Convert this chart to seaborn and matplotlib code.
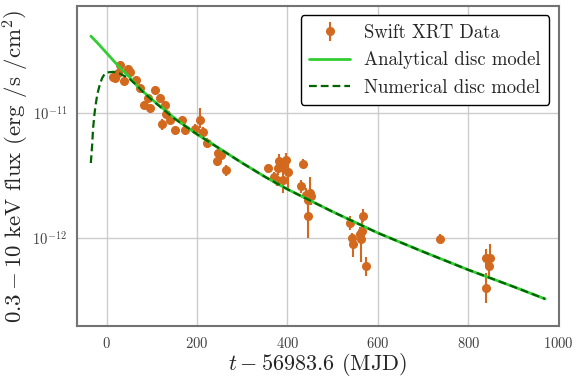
import matplotlib
matplotlib.use("Agg")
import matplotlib.pyplot as plt
import seaborn as sns
import numpy as np

# Swift XRT data (flux in units of 1e-12 erg/s/cm^2)
t_obs = [14, 18, 26, 29.5, 38, 47, 51, 66, 73, 83, 91.5, 95, 106, 117, 122.5,
         128, 132, 139.5, 150.6, 167, 173, 195, 206, 213, 221, 243, 247, 254, 265,
         357, 371, 376, 378, 381, 387, 390, 396, 401, 430, 435, 442, 445, 446, 450, 453,
         538, 542, 546, 560, 563, 564, 568, 573, 737, 839, 839, 846, 848]
flux_obs = [19.5, 19.0, 20.8, 24.2, 18.0, 22.5, 21.4, 18.4, 15.8, 11.6, 13.1, 10.9, 15.3, 13.1, 8.1,
            11.6, 9.9, 8.8, 7.3, 8.8, 7.3, 7.5, 8.8, 7.1, 5.8, 4.1, 4.8, 4.6, 3.5,
            3.6, 3.1, 2.9, 3.6, 4.1, 3.7, 2.9, 4.2, 3.4, 2.6, 3.9, 2.2, 1.5, 2.0, 2.3, 2.15,
            1.31, 0.995, 0.89, 1.07, 0.99, 1.14, 1.5, 0.60, 0.99, 0.69, 0.40, 0.60, 0.69]
err_lo = [1.4, 1.4, 1.5, 1.8, 1.3, 1.6, 1.5, 1.3, 1.1, 0.9, 1.0, 0.8, 1.1, 1.0, 0.8,
          0.9, 0.8, 0.7, 0.6, 0.7, 0.6, 0.6, 1.2, 0.6, 0.5, 0.35, 0.4, 0.4, 0.35,
          0.3, 0.3, 0.3, 0.4, 0.6, 0.35, 0.6, 0.4, 0.9, 0.3, 0.3, 0.3, 0.5, 0.3, 0.4, 0.3,
          0.15, 0.1, 0.18, 0.15, 0.35, 0.2, 0.15, 0.1, 0.08, 0.1, 0.1, 0.1, 0.12]
err_hi = [1.4, 1.4, 1.5, 1.8, 1.3, 1.6, 1.5, 1.3, 1.1, 0.9, 1.0, 0.8, 1.1, 1.0, 0.8,
          0.9, 0.8, 0.7, 0.6, 0.7, 0.6, 0.6, 2.2, 0.6, 0.5, 0.35, 0.4, 0.4, 0.35,
          0.3, 0.3, 0.3, 0.4, 0.6, 0.35, 0.9, 0.6, 0.95, 0.3, 0.35, 0.3, 0.8, 0.3, 0.8, 0.3,
          0.2, 0.1, 0.15, 0.15, 0.1, 0.3, 0.2, 0.1, 0.08, 0.12, 0.12, 0.1, 0.2]

# model curves: log10 of flux
t_ana = [-35, -20, 0, 25, 50, 69, 100, 150, 200, 250, 300, 350, 400, 450,
         500, 600, 700, 800, 900, 970]
logf_ana = [-10.384, -10.44, -10.52, -10.62, -10.71, -10.79, -10.89, -11.04, -11.17, -11.285,
            -11.40, -11.51, -11.61, -11.70, -11.79, -11.96, -12.11, -12.255, -12.39, -12.488]
t_num = [-35, -32, -30, -27, -25, -22, -20, -15, -10, -5, 0, 15, 30, 50, 66, 80, 100, 150,
         200, 250, 300, 350, 400, 450, 500, 600, 700, 800, 900, 970]
logf_num = [-11.40, -11.25, -11.12, -11.01, -10.95, -10.88, -10.84, -10.77, -10.72, -10.69,
            -10.675, -10.67, -10.685, -10.725, -10.776, -10.83, -10.895, -11.045,
            -11.17, -11.285, -11.40, -11.51, -11.61, -11.70, -11.79, -11.96, -12.11,
            -12.255, -12.39, -12.488]

sns.set_style("white")
plt.rcParams['font.family'] = ['cmr10', 'DejaVu Serif']
plt.rcParams['mathtext.fontset'] = 'cm'
plt.rcParams['axes.unicode_minus'] = False
plt.rcParams['axes.formatter.use_mathtext'] = True

fig = plt.figure(figsize=(5.82, 3.82), dpi=100)
ax = fig.add_axes([0.132, 0.147, 0.828, 0.837])

f_obs = np.array(flux_obs) * 1e-12
yerr = [np.array(err_lo) * 1e-12, np.array(err_hi) * 1e-12]
ax.errorbar(t_obs, f_obs, yerr=yerr, fmt='o', color='#D2691E', ms=5.5,
            elinewidth=1.5, capsize=0, label='Swift XRT Data', zorder=3)
sns.lineplot(x=t_ana, y=10 ** np.array(logf_ana), ax=ax, color='#32CD32', lw=2,
             label='Analytical disc model', zorder=4)
sns.lineplot(x=t_num, y=10 ** np.array(logf_num), ax=ax, color='#006400', lw=1.6,
             linestyle='--', label='Numerical disc model', zorder=5)
ax.lines[-1].set_dashes([3.5, 1.8])

ax.set_yscale('log')
ax.set_xlim(-66, 1000)
ax.set_ylim(1.98e-13, 7.18e-11)
ax.set_xticks([0, 200, 400, 600, 800, 1000])
ax.grid(True, which='major', color='0.8', lw=1)
ax.tick_params(axis='both', which='major', labelsize=10.5, length=3.5, width=1,
               direction='out', color='0.25', labelcolor='0.25')
ax.tick_params(axis='y', which='minor', length=2, width=0.8, color='0.25')
ax.tick_params(axis='x', which='minor', length=0)
for s in ax.spines.values():
    s.set_color('0.45')
    s.set_linewidth(1.5)

ax.set_xlabel(r'$t - 56983.6$ (MJD)', fontsize=16, labelpad=0)
ax.set_ylabel(r'$0.3 - 10$ keV flux (erg /s /cm$^2$)', fontsize=16.5, labelpad=0.5)

handles, labels = ax.get_legend_handles_labels()
order = [labels.index('Swift XRT Data'), labels.index('Analytical disc model'),
         labels.index('Numerical disc model')]
leg = ax.legend([handles[i] for i in order], [labels[i] for i in order],
                loc='upper right', fontsize=13.5, frameon=True, fancybox=True,
                framealpha=1, edgecolor='black', handlelength=2.2,
                handletextpad=0.75, borderpad=0.45, labelspacing=0.5)
leg.get_frame().set_linewidth(1)

fig.savefig('out.png', dpi=100)
